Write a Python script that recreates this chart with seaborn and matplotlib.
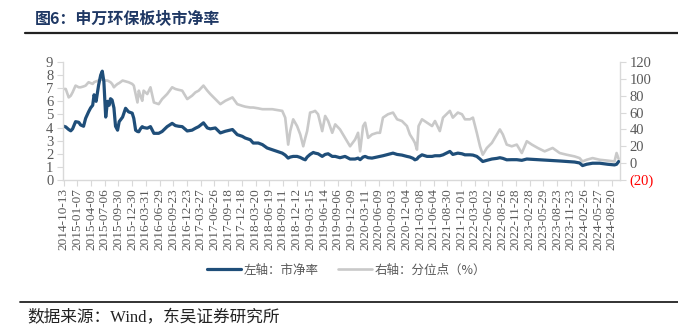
import matplotlib
matplotlib.use("Agg")
import matplotlib.pyplot as plt
import seaborn as sns
import pandas as pd
from matplotlib.lines import Line2D

# ---------------- data ----------------
# trading-day index since 2014-10-13
day_idx = [0, 9, 22, 31, 39, 52, 66, 74, 87, 96, 109, 118, 127, 133, 142, 153, 162, 169, 176,
           184, 192, 199, 205, 212, 220, 227, 236, 243, 258, 271, 284, 300, 307, 315, 323, 329,
           336, 344, 350, 366, 380, 395, 416, 431, 453, 475, 489, 503, 519, 541, 562, 577, 591,
           612, 629, 642, 664, 686, 708, 739, 760, 782, 795, 817, 830, 852, 870, 891, 913, 935,
           957, 970, 983, 992, 1005, 1022, 1036, 1049, 1058, 1066, 1079, 1093, 1101, 1114, 1132,
           1145, 1158, 1176, 1189, 1210, 1232, 1254, 1276, 1289, 1298, 1311, 1320, 1333, 1350,
           1372, 1385, 1398, 1420, 1442, 1460, 1481, 1503, 1516, 1530, 1538, 1547, 1554, 1569,
           1591, 1613, 1626, 1647, 1661, 1691, 1704, 1726, 1744, 1757, 1779, 1792, 1809, 1823,
           1835, 1853, 1875, 1897, 1910, 1923, 1940, 1962, 1984, 2006, 2028, 2050, 2076, 2106,
           2141, 2172, 2202, 2237, 2259, 2272, 2290, 2316, 2347, 2382, 2412, 2421, 2430]

pb = [4.1, 4.05, 3.85, 3.75, 3.9, 4.45, 4.4, 4.2, 4.1, 4.7, 5.2, 5.5, 5.7, 6.5, 6.0, 7.25, 8.0,
      8.3, 7.5, 4.8, 6.0, 5.7, 6.2, 6.1, 5.5, 4.1, 3.8, 4.45, 4.8, 5.47, 5.2, 5.1, 4.7, 3.8, 3.7,
      3.68, 3.9, 4.07, 4.0, 3.95, 4.07, 3.56, 3.56, 3.7, 4.07, 4.32, 4.15, 4.1, 4.07, 3.74, 3.8,
      3.95, 4.07, 4.36, 3.97, 3.9, 3.97, 3.59, 3.72, 3.85, 3.46, 3.33, 3.2, 3.07, 2.82, 2.82,
      2.7, 2.44, 2.31, 2.18, 2.05, 1.9, 1.67, 1.75, 1.8, 1.8, 1.72, 1.6, 1.54, 1.75, 1.95, 2.1,
      2.05, 2.0, 1.8, 1.95, 2.0, 1.8, 1.8, 1.7, 1.8, 1.6, 1.6, 1.67, 1.55, 1.75, 1.8, 1.7, 1.67,
      1.75, 1.8, 1.85, 1.95, 2.05, 1.95, 1.9, 1.8, 1.75, 1.65, 1.54, 1.6, 1.75, 1.92, 1.8, 1.8,
      1.85, 1.85, 1.92, 2.18, 1.95, 2.05, 2.0, 1.92, 1.92, 1.9, 1.8, 1.6, 1.41, 1.5, 1.6, 1.65,
      1.7, 1.65, 1.54, 1.55, 1.55, 1.5, 1.6, 1.58, 1.55, 1.52, 1.48, 1.45, 1.41, 1.37, 1.3, 1.1,
      1.2, 1.28, 1.28, 1.2, 1.15, 1.2, 1.41]

pct = [88, 88, 78, 80, 84, 92, 90, 90, 91, 92, 96, 95, 94, 96, 97, 98, 99, 99, 99, 98, 98, 97,
       96, 94, 90, 92, 94, 95, 98, 97, 96, 94, 92, 82, 72, 86, 80, 74, 86, 82, 90, 72, 70, 76,
       82, 90, 88, 87, 86, 76, 80, 84, 86, 92, 86, 82, 76, 70, 74, 78, 70, 68, 67, 66, 66, 65,
       64, 64, 64, 63, 62, 54, 22, 38, 52, 44, 34, 20, 30, 38, 60, 61, 62, 58, 38, 56, 50, 36,
       46, 40, 30, 20, 28, 36, 14, 44, 48, 30, 34, 36, 36, 54, 58, 60, 52, 50, 44, 34, 28, 24,
       16, 44, 52, 48, 44, 50, 38, 54, 62, 54, 60, 58, 52, 52, 54, 36, 20, 10, 18, 24, 34, 40,
       34, 22, 20, 22, 12, 26, 22, 18, 14, 18, 12, 10, 8, 6, 2, 4, 6, 4, 3, 2, 12, 5]

tick_dates = ["2014-10-13", "2015-01-07", "2015-04-09", "2015-07-06", "2015-09-30", "2015-12-30",
              "2016-03-31", "2016-06-29", "2016-09-23", "2016-12-23", "2017-03-27", "2017-06-26",
              "2017-09-18", "2017-12-18", "2018-03-20", "2018-06-19", "2018-09-11", "2018-12-12",
              "2019-03-15", "2019-06-14", "2019-09-06", "2019-12-09", "2020-03-11", "2020-06-09",
              "2020-09-03", "2020-12-04", "2021-03-08", "2021-06-04", "2021-08-30", "2021-12-01",
              "2022-03-03", "2022-06-02", "2022-08-26", "2022-11-28", "2023-02-28", "2023-05-29",
              "2023-08-23", "2023-11-23", "2024-02-26", "2024-05-27", "2024-08-20"]
tick_step = 60

left_ticks = [0, 1, 2, 3, 4, 5, 6, 7, 8, 9]
right_ticks = [-20, 0, 20, 40, 60, 80, 100, 120]
right_labels = ["(20)", "0", "20", "40", "60", "80", "100", "120"]

title = "图6：申万环保板块市净率"
legend_labels = ["左轴：市净率", "右轴：分位点（%）"]
source = "数据来源：Wind，东吴证券研究所"

# ---------------- styling ----------------
sns.set_theme(style="white")
plt.rcParams["font.family"] = ["Liberation Serif", "Noto Sans CJK SC", "DejaVu Sans"]
CJK = ["Noto Sans CJK SC", "DejaVu Sans"]

BLUE = "#1F4E79"
GRAY = "#C9C9C9"
TXT = "#595959"
SPINE = "#D9D9D9"

df = pd.DataFrame({"day": day_idx, "pb": pb, "pct": pct})

fig = plt.figure(figsize=(6.78, 3.28), dpi=100)
ax = fig.add_axes([63 / 678, 1 - 180 / 328, (620 - 63) / 678, (180 - 62) / 328])
ax2 = ax.twinx()

sns.lineplot(data=df, x="day", y="pct", ax=ax2, color=GRAY, linewidth=1.9, legend=False)
sns.lineplot(data=df, x="day", y="pb", ax=ax, color=BLUE, linewidth=2.3, legend=False)
ax.set_zorder(ax2.get_zorder() + 1)
ax.patch.set_visible(False)

ax.set_xlim(-3, 2436)
ax.set_ylim(0, 9)
ax2.set_ylim(-20, 120)

ax.set_xticks([i * tick_step for i in range(len(tick_dates))])
ax.set_xticklabels(tick_dates, rotation=90, fontsize=9.5, color=TXT)
ax.set_yticks(left_ticks)
ax.set_yticklabels([str(v) for v in left_ticks], fontsize=10.5, color=TXT)
ax2.set_yticks(right_ticks)
ax2.set_yticklabels(right_labels, fontsize=10.5, color=TXT)
ax2.get_yticklabels()[0].set_color("#FF0000")

for a in (ax, ax2):
    a.set_xlabel("")
    a.set_ylabel("")
    a.grid(False)
    for s in a.spines.values():
        s.set_visible(False)
ax.spines["left"].set_visible(True)
ax.spines["bottom"].set_visible(True)
ax2.spines["right"].set_visible(True)
for s in (ax.spines["left"], ax.spines["bottom"], ax2.spines["right"]):
    s.set_color(SPINE)
    s.set_linewidth(1.0)

ax.tick_params(axis="x", direction="out", length=4, width=0.8, color=SPINE, pad=2, bottom=True)
ax.tick_params(axis="y", direction="out", length=4, width=0.8, color=SPINE, pad=3, left=True)
ax2.tick_params(axis="y", direction="out", length=4, width=0.8, color=SPINE, pad=3, right=True)

# legend
handles = [Line2D([], [], color=BLUE, linewidth=2.3), Line2D([], [], color=GRAY, linewidth=1.9)]
leg = fig.legend(handles, legend_labels, loc="center", bbox_to_anchor=(0.511, 1 - 270 / 328),
                 ncol=2, frameon=False, handlelength=2.7, columnspacing=1.6,
                 handletextpad=0.2, prop={"family": CJK, "size": 9})
for t in leg.get_texts():
    t.set_color(TXT)

# title, rules, source
fig.text(35 / 678, 1 - 18 / 328, title, fontsize=11.5, fontweight="bold", color="#1F3864",
         va="center", ha="left", family=CJK)
fig.add_artist(Line2D([25 / 678, 1], [1 - 33 / 328] * 2, color="#222222", linewidth=1.6))
fig.add_artist(Line2D([20 / 678, 1], [1 - 302 / 328] * 2, color="#222222", linewidth=1.3))
fig.text(27 / 678, 1 - 318 / 328, source, fontsize=12, color="#222222", va="center",
         ha="left")

fig.savefig("out.png", dpi=100)
